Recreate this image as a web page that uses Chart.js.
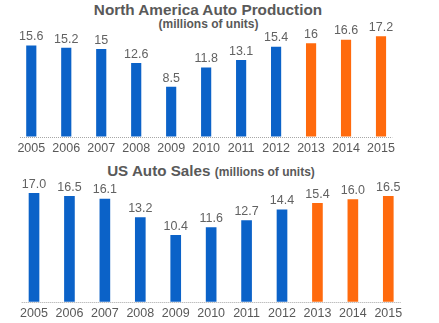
<!DOCTYPE html>
<html>
<head>
<meta charset="utf-8">
<script src="https://cdn.jsdelivr.net/npm/chart.js@4/dist/chart.umd.min.js"></script>
<style>
  body { margin: 0; background: #fff; width: 439px; height: 323px; position: relative; overflow: hidden; }
  .title { position: absolute; left: 0; color: #595959; font-family: 'Liberation Sans', Arial, sans-serif; font-weight: bold; white-space: nowrap; text-align: center; }
  canvas { position: absolute; left: 0; }
</style>
</head>
<body>
<div class="title" style="top:1.5px; width:416px; font-size:15.3px; line-height:16px;">North America Auto Production</div>
<div class="title" style="top:17px; width:417px; font-size:12px; line-height:14px;">(millions of units)</div>
<div class="title" style="top:162.7px; width:422px; line-height:16px;"><span style="font-size:15.2px;">US Auto Sales</span> <span style="font-size:12px;">(millions of units)</span></div>

<canvas id="prodChart" width="439" height="160" style="top:0;"></canvas>
<canvas id="salesChart" width="439" height="163" style="top:160px;"></canvas>

<script>
const years = ['2005', '2006', '2007', '2008', '2009', '2010', '2011', '2012', '2013', '2014', '2015'];
const production = [15.6, 15.2, 15, 12.6, 8.5, 11.8, 13.1, 15.4, 16, 16.6, 17.2];
const sales = [17.0, 16.5, 16.1, 13.2, 10.4, 11.6, 12.7, 14.4, 15.4, 16.0, 16.5];
const forecastFrom = '2013';

const BLUE = '#0b62c8';
const ORANGE = '#ff6a0d';
const TEXT = '#595959';
const FONT = "'Liberation Sans', Arial, sans-serif";

// value text above each bar
const valueLabels = {
  id: 'valueLabels',
  afterDatasetsDraw(chart, args, opts) {
    const ctx = chart.ctx;
    const ds = chart.data.datasets[0];
    ctx.save();
    ctx.font = '12.5px ' + FONT;
    ctx.fillStyle = '#626262';
    ctx.textAlign = 'center';
    ctx.textBaseline = 'middle';
    chart.getDatasetMeta(0).data.forEach((bar, i) => {
      const v = ds.data[i];
      const txt = opts.decimals == null ? String(v) : v.toFixed(opts.decimals);
      ctx.fillText(txt, bar.x, bar.y - 9);
    });
    ctx.restore();
  }
};

// dotted baseline under the bars
const baseLine = {
  id: 'baseLine',
  afterDatasetsDraw(chart, args, opts) {
    const x = chart.scales.x, y = chart.scales.y;
    const n = chart.data.labels.length;
    const y0 = Math.round(y.getPixelForValue(0)) + 0.5;
    const ctx = chart.ctx;
    ctx.save();
    ctx.strokeStyle = '#a6a6a6';
    ctx.lineWidth = 1;
    ctx.setLineDash([1, 1]);
    ctx.beginPath();
    ctx.moveTo(x.getPixelForValue(0) - opts.extend, y0);
    ctx.lineTo(x.getPixelForValue(n - 1) + opts.extend, y0);
    ctx.stroke();
    ctx.restore();
  }
};

function barColors(labels) {
  return labels.map(l => (l >= forecastFrom ? ORANGE : BLUE));
}

function makeChart(id, values, cfg) {
  return new Chart(document.getElementById(id).getContext('2d'), {
    type: 'bar',
    data: {
      labels: years,
      datasets: [{
        data: values,
        backgroundColor: barColors(years),
        barThickness: cfg.barWidth
      }]
    },
    options: {
      responsive: false,
      animation: false,
      layout: { padding: cfg.padding },
      plugins: {
        legend: { display: false },
        tooltip: { enabled: false },
        valueLabels: { decimals: cfg.decimals },
        baseLine: { extend: cfg.lineExtend }
      },
      scales: {
        x: {
          offset: true,
          grid: { display: false, drawTicks: false },
          border: { display: false },
          ticks: { color: TEXT, font: { family: FONT, size: 12.5 }, padding: cfg.tickPad, maxRotation: 0, autoSkip: false },
          afterFit: s => { s.height = cfg.axisHeight; }
        },
        y: { display: false, min: 0, max: 20 }
      }
    },
    plugins: [valueLabels, baseLine]
  });
}

makeChart('prodChart', production, {
  barWidth: 9.5,
  decimals: null,
  lineExtend: 11.3,
  axisHeight: 23.4,
  tickPad: 4,
  padding: { left: 13.8, right: 40.5, top: 20.2, bottom: 0 }
});

makeChart('salesChart', sales, {
  barWidth: 10,
  decimals: 1,
  lineExtend: 12.3,
  axisHeight: 21.3,
  tickPad: 4.5,
  padding: { left: 16.3, right: 33, top: 14.1, bottom: 0 }
});
</script>
</body>
</html>
